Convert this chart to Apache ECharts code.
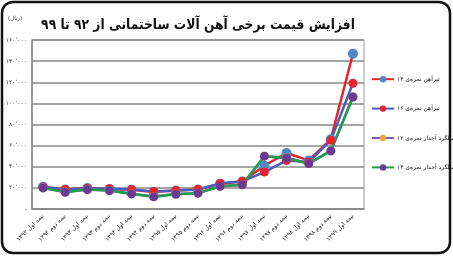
<!DOCTYPE html>
<html><head><meta charset="utf-8">
<script src="https://cdn.jsdelivr.net/npm/echarts@6/dist/echarts.min.js"></script>
<style>html,body{margin:0;padding:0;background:#fff}#c{width:453px;height:257px}</style>
</head><body><div id="c"></div>
<script>
const categories = ['نیمه اول ۱۳۹۲','نیمه دوم ۱۳۹۲','نیمه اول ۱۳۹۳','نیمه دوم ۱۳۹۳','نیمه اول ۱۳۹۴','نیمه دوم ۱۳۹۴','نیمه اول ۱۳۹۵','نیمه دوم ۱۳۹۵','نیمه اول ۱۳۹۶','نیمه دوم ۱۳۹۶','نیمه اول ۱۳۹۷','نیمه دوم ۱۳۹۷','نیمه اول ۱۳۹۸','نیمه دوم ۱۳۹۸','نیمه اول ۱۳۹۹'];
const seriesNames = ['تیرآهن نمره‌ی ۱۴','تیرآهن نمره‌ی ۱۶','میلگرد آجدار نمره‌ی ۱۲','میلگرد آجدار نمره‌ی ۱۴'];
const tir14 = [21000,18500,19800,19000,18200,16200,17500,18500,24000,26000,41000,53000,46000,66000,147000];
const tir16 = [20500,18400,19500,19200,18400,16600,17600,18500,24200,26200,35000,46000,44500,65000,119000];
const milgerd12 = [20000,16000,18500,17500,14500,11800,14200,15000,21500,23000,50000,48500,43000,55000,106000];
const milgerd14 = [20000,15800,18400,17500,14300,11500,14000,15000,21500,23000,50000,48300,43000,55000,106000];
const yMin = 0, yMax = 160000, yStep = 20000;
const unitLabel = '(ریال)';
const titleText = 'افزایش قیمت برخی آهن آلات ساختمانی از ۹۲ تا ۹۹';

const fa = s => String(s).replace(/[0-9]/g, d => '۰۱۲۳۴۵۶۷۸۹'[d]);
const fmt = v => v === 0 ? '-' : fa(Math.floor(v/1000)) + '٬' + '۰۰۰';

const styles = [
  {line:'#e8232c', mark:'#4f87c8', size:10},
  {line:'#4a5cc0', mark:'#e8232c', size:9},
  {line:'#7d5aa8', mark:'#f0a23a', size:9},
  {line:'#1f9e4a', mark:'#6a3a98', size:9}
];
const data = [tir14, tir16, milgerd12, milgerd14];
const FF = 'DejaVu Sans';

const chart = echarts.init(document.getElementById('c'), null, {renderer:'canvas'});
chart.setOption({
  backgroundColor:'#fff',
  animation:false,
  textStyle:{fontFamily:FF},
  graphic:[
    {type:'rect', shape:{x:2, y:2, width:448, height:251, r:11}, style:{fill:'none', stroke:'#111', lineWidth:2.5}, z:100},
    {type:'text', x:8, y:16, style:{text:unitLabel, fontSize:5.5, fontFamily:FF, fill:'#333'}},
    {type:'text', x:198, y:25, scaleX:0.88, style:{text:titleText, textAlign:'center', textVerticalAlign:'middle', fontSize:14, fontWeight:'bold', fontFamily:FF, fill:'#111'}}
  ],
  legend:{orient:'vertical', left:366, top:71, itemGap:23, itemWidth:22, itemHeight:8,
    textStyle:{fontFamily:FF, fontSize:6, fontWeight:'normal', color:'#111', padding:[0,0,0,-2]},
    data:seriesNames},
  grid:{left:32, right:89, top:40, bottom:48, show:true, borderColor:'#999', borderWidth:1},
  xAxis:{type:'category', data:categories, boundaryGap:true,
    axisLine:{lineStyle:{color:'#888', width:1.5}}, axisTick:{show:false},
    axisLabel:{rotate:45, fontSize:6, color:'#222', fontFamily:FF, interval:0, margin:6}},
  yAxis:{type:'value', min:yMin, max:yMax, interval:yStep,
    axisLine:{show:true, lineStyle:{color:'#888', width:1.5}}, axisTick:{show:false},
    splitLine:{lineStyle:{color:'#888', width:1.5}},
    axisLabel:{fontSize:6, color:'#333', fontFamily:FF, formatter:fmt, margin:5}},
  series: seriesNames.map((n,i)=>({
    name:n, type:'line', data:data[i], symbol:'circle', symbolSize:styles[i].size,
    lineStyle:{color:styles[i].line, width:2.5},
    itemStyle:{color:styles[i].mark}
  }))
});
</script></body></html>
